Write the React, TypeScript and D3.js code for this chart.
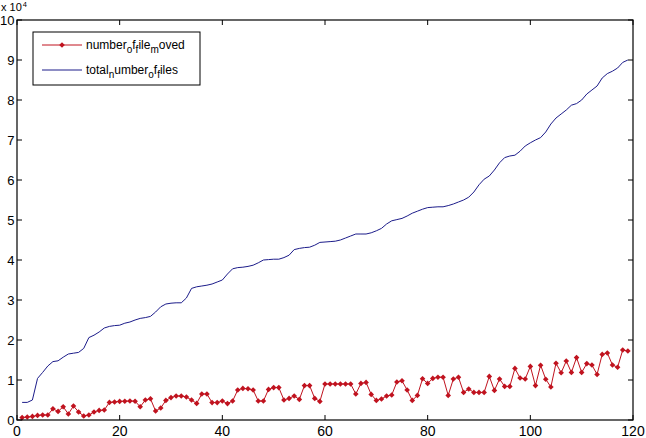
import React from 'react';
import * as d3 from 'd3';

// values, index 0 is x = 1
const fileMoved = [
  600, 750, 900, 1150, 1250, 1250, 2800, 2150, 3300, 1500,
  3500, 2000, 1000, 1250, 2000, 2400, 2500, 4400, 4500, 4650,
  4700, 4750, 4700, 3300, 5000, 5300, 2250, 3000, 4900, 5600,
  6000, 6000, 5750, 5000, 4150, 6500, 6500, 4350, 4350, 4750,
  4100, 4750, 7500, 7900, 7800, 7500, 4750, 4750, 7650, 8100,
  8100, 5000, 5400, 6000, 5150, 8600, 8600, 5400, 4650, 9000,
  9000, 9000, 9000, 9000, 9000, 6500, 9150, 9400, 6400, 4900,
  5250, 6000, 6250, 9500, 9800, 7500, 4900, 6150, 10300, 9150,
  10400, 10700, 10700, 6150, 10250, 10700, 6900, 7750, 6900, 6900,
  6900, 10900, 7400, 10250, 8400, 8400, 12900, 10500, 10250, 13400,
  8600, 13700, 10200, 8250, 14200, 11800, 14750, 11900, 15600, 11900,
  14100, 13750, 11400, 16400, 16750, 13750, 13200, 17500, 17250,
];

const totalFiles = [
  4400, 4400, 5000, 10400, 11900, 13500, 14600, 14800, 15700, 16500,
  16700, 16900, 17900, 20600, 21200, 22000, 23000, 23400, 23600, 23700,
  24200, 24500, 25000, 25400, 25600, 25900, 27000, 28300, 29000, 29200,
  29300, 29300, 30500, 32900, 33300, 33500, 33700, 34000, 34500, 35000,
  36500, 37800, 38100, 38200, 38400, 38700, 39300, 40000, 40100, 40200,
  40200, 40600, 41200, 42600, 42900, 43100, 43200, 43700, 44400, 44500,
  44600, 44700, 45000, 45500, 46000, 46500, 46500, 46500, 46800, 47300,
  47900, 49000, 49800, 50100, 50400, 51000, 51700, 52200, 52700, 53100,
  53200, 53300, 53300, 53600, 54000, 54500, 55000, 55700, 57000, 58800,
  60200, 61000, 62500, 64300, 65600, 66000, 66200, 67200, 68500, 69300,
  70000, 70600, 72000, 74000, 75500, 76500, 77500, 78700, 79100, 80000,
  81500, 82500, 83500, 85500, 86600, 87200, 88000, 89400, 90000,
];

const xTicks = [0, 20, 40, 60, 80, 100, 120];
const yTicks = [0, 1, 2, 3, 4, 5, 6, 7, 8, 9, 10];

const W = 646;
const H = 438;
const margin = { top: 20, right: 13, bottom: 18, left: 17 };
const font = 'Liberation Sans, Arial, sans-serif';
const red = '#c0131f';
const blue = '#1c1c8a';

const App: React.FC = () => {
  const x = d3.scaleLinear().domain([0, 120]).range([margin.left, W - margin.right]);
  const y = d3.scaleLinear().domain([0, 100000]).range([H - margin.bottom, margin.top]);

  const line = d3.line<number>()
    .x((_, i) => x(i + 1))
    .y(d => y(d));

  // small even rhombus marker
  const r = 2.8;
  const marker = `M0,${-r}L${r},0L0,${r}L${-r},0Z`;

  const x0 = x(0), x1 = x(120), y0 = y(0), y1 = y(100000);
  const tl = 5;

  const sub = (t: string) => (
    <tspan dy={4} fontSize={10}>{t}</tspan>
  );

  return (
    <svg width={W} height={H} style={{ position: 'absolute', left: 0, top: 0, background: '#fff' }}
      fontFamily={font}>
      <rect x={0} y={0} width={W} height={H} fill="#fff" />

      {/* data */}
      <path d={line(totalFiles) ?? ''} fill="none" stroke={blue} strokeWidth={1} />
      <path d={line(fileMoved) ?? ''} fill="none" stroke={red} strokeWidth={1} />
      {fileMoved.map((v, i) => (
        <path key={i} d={marker} transform={`translate(${x(i + 1)},${y(v)})`} fill={red} />
      ))}

      {/* box */}
      <rect x={x0} y={y1} width={x1 - x0} height={y0 - y1} fill="none" stroke="#000" strokeWidth={1.2} />

      {/* x ticks */}
      {xTicks.map(t => (
        <g key={'x' + t}>
          <line x1={x(t)} x2={x(t)} y1={y0} y2={y0 - tl} stroke="#000" />
          <line x1={x(t)} x2={x(t)} y1={y1} y2={y1 + tl} stroke="#000" />
          <text x={x(t)} y={H - 2} textAnchor="middle" fontSize={14}>{t}</text>
        </g>
      ))}

      {/* y ticks */}
      {yTicks.map(t => (
        <g key={'y' + t}>
          <line x1={x0} x2={x0 + tl} y1={y(t * 10000)} y2={y(t * 10000)} stroke="#000" />
          <line x1={x1} x2={x1 - tl} y1={y(t * 10000)} y2={y(t * 10000)} stroke="#000" />
          <text x={14.5} y={y(t * 10000)} dy="0.36em" textAnchor="end" fontSize={13}>{t}</text>
        </g>
      ))}

      {/* exponent */}
      <text x={1} y={10.5} fontSize={11}>
        x 10<tspan dx={1} dy={-3.5} fontSize={7.5}>4</tspan>
      </text>

      {/* legend */}
      <rect x={33} y={32} width={167} height={53} fill="#fff" stroke="#000" strokeWidth={1} />
      <line x1={42} x2={82} y1={45} y2={45} stroke={red} />
      <path d={marker} transform="translate(62,45)" fill={red} />
      <text x={86} y={49} fontSize={12}>
        number{sub('o')}<tspan dy={-4}>f</tspan>{sub('f')}<tspan dy={-4}>ile</tspan>{sub('m')}<tspan dy={-4}>oved</tspan>
      </text>
      <line x1={42} x2={82} y1={70} y2={70} stroke={blue} />
      <text x={86} y={74} fontSize={12}>
        total{sub('n')}<tspan dy={-4}>umber</tspan>{sub('o')}<tspan dy={-4}>f</tspan>{sub('f')}<tspan dy={-4}>iles</tspan>
      </text>
    </svg>
  );
};

export default App;
